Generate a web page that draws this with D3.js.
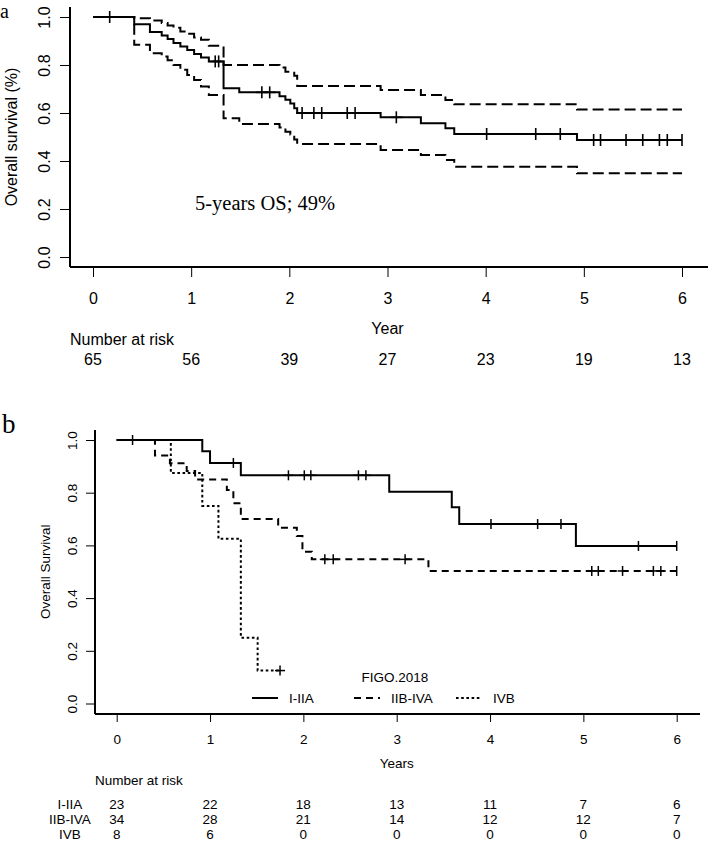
<!DOCTYPE html>
<html><head><meta charset="utf-8">
<script src="https://cdn.jsdelivr.net/npm/d3@7/dist/d3.min.js"></script>
<style>body{margin:0;background:#fff}svg{display:block}</style>
</head><body>
<svg id="c" width="708" height="843"></svg>
<script>
// ---------- Panel a data ----------
const aTimes = [0, 0.42, 0.58, 0.70, 0.76, 0.82, 0.89, 0.96, 1.03, 1.10, 1.18, 1.33, 1.49, 1.90, 1.96, 2.01, 2.05, 2.08, 2.93, 3.34, 3.59, 3.68, 4.93];
const aSurv  = [1.0, 0.970, 0.938, 0.923, 0.908, 0.892, 0.877, 0.862, 0.846, 0.831, 0.815, 0.703, 0.686, 0.670, 0.655, 0.640, 0.620, 0.600, 0.582, 0.557, 0.536, 0.5125, 0.4875];
const aUpper = [1.0, 0.995, 0.985, 0.975, 0.965, 0.955, 0.940, 0.930, 0.915, 0.905, 0.880, 0.800, 0.800, 0.790, 0.772, 0.772, 0.755, 0.7125, 0.696, 0.675, 0.654, 0.636, 0.615];
const aLower = [1.0, 0.884, 0.849, 0.835, 0.820, 0.800, 0.780, 0.758, 0.7375, 0.710, 0.675, 0.578, 0.554, 0.540, 0.522, 0.510, 0.490, 0.471, 0.446, 0.425, 0.404, 0.376, 0.349];
const aCensor = [0.17, 1.245, 1.28, 1.72, 1.80, 2.13, 2.25, 2.33, 2.59, 2.67, 3.09, 4.01, 4.51, 4.76, 5.10, 5.17, 5.43, 5.60, 5.77, 5.85, 6.0];
const aEnd = 6;
const riskTimes = [0, 1, 2, 3, 4, 5, 6];
const aRisk = [65, 56, 39, 27, 23, 19, 13];
const yTicks = [0, 0.2, 0.4, 0.6, 0.8, 1.0];
const xTicks = [0, 1, 2, 3, 4, 5, 6];

// ---------- Panel b data ----------
const groups = ["I-IIA", "IIB-IVA", "IVB"];
const b1Times = [0, 0.917, 1.0, 1.33, 2.92, 3.59, 3.67, 4.92];
const b1Surv  = [1.0, 0.957, 0.913, 0.866, 0.804, 0.745, 0.681, 0.598];
const b1Censor = [0.17, 1.25, 1.84, 2.01, 2.08, 2.59, 2.67, 4.01, 4.51, 4.76, 5.59, 6.0];
const b1End = 6;
const b2Times = [0, 0.41, 0.57, 0.75, 0.84, 1.18, 1.25, 1.33, 1.73, 1.93, 1.99, 2.09, 3.34];
const b2Surv  = [1.0, 0.941, 0.912, 0.882, 0.850, 0.810, 0.760, 0.700, 0.667, 0.636, 0.576, 0.547, 0.503];
const b2Censor = [2.23, 2.32, 3.09, 5.09, 5.16, 5.42, 5.75, 5.83, 6.0];
const b2End = 6;
const b3Times = [0, 0.58, 0.917, 1.09, 1.33, 1.51];
const b3Surv  = [1.0, 0.875, 0.75, 0.625, 0.25, 0.125];
const b3Censor = [1.75];
const b3End = 1.75;
const bRisk1 = [23, 22, 18, 13, 11, 7, 6];
const bRisk2 = [34, 28, 21, 14, 12, 12, 7];
const bRisk3 = [8, 6, 0, 0, 0, 0, 0];

const svg = d3.select("#c");
const SANS = "'Liberation Sans', Arial, Helvetica, sans-serif";
const SERIF = "'Liberation Serif', 'Times New Roman', serif";

function survAt(times, surv, t) {
  let v = surv[0];
  for (let i = 0; i < times.length; i++) if (times[i] <= t) v = surv[i];
  return v;
}
function stepPath(x, y, times, vals, end) {
  const pts = times.map((t, i) => [t, vals[i]]);
  pts.push([end, vals[vals.length - 1]]);
  return d3.line().x(d => x(d[0])).y(d => y(d[1])).curve(d3.curveStepAfter)(pts);
}
function censorMarks(g, x, y, times, surv, cens, arm, vArm, lw) {
  cens.forEach(t => {
    const cx = x(t), cy = y(survAt(times, surv, t));
    g.append("line").attr("x1", cx).attr("x2", cx).attr("y1", cy - vArm).attr("y2", cy + vArm)
      .attr("stroke", "#000").attr("stroke-width", lw);
    g.append("line").attr("x1", Math.max(cx - arm, x(0))).attr("x2", Math.min(cx + arm, x(6)))
      .attr("y1", cy).attr("y2", cy).attr("stroke", "#000").attr("stroke-width", lw);
  });
}

// ================= Panel a =================
{
  const x = d3.scaleLinear().domain([0, 6]).range([93, 682]);
  const y = d3.scaleLinear().domain([0, 1]).range([257, 17]);
  const g = svg.append("g");
  const axL = 70, axB = 267;
  g.append("text").text("a").attr("x", 0).attr("y", 18).attr("font-family", SERIF).attr("font-size", 20);
  g.append("line").attr("x1", axL).attr("x2", axL).attr("y1", 7).attr("y2", axB).attr("stroke", "#000").attr("stroke-width", 2);
  g.append("line").attr("x1", axL).attr("x2", 708).attr("y1", axB).attr("y2", axB).attr("stroke", "#000").attr("stroke-width", 2);
  const ya = g.append("g").attr("transform", `translate(${axL},0)`)
    .call(d3.axisLeft(y).tickValues(yTicks).tickFormat(d3.format(".1f")).tickSize(10).tickPadding(0));
  ya.select(".domain").remove();
  ya.selectAll("line").attr("stroke", "#000").attr("stroke-width", 1);
  ya.selectAll("text").attr("font-family", SANS).attr("font-size", 16).attr("fill", "#000")
    .attr("x", null).attr("dy", "0.35em").attr("text-anchor", "middle")
    .attr("transform", `translate(${44 - axL},0) rotate(-90)`);
  g.append("text").text("Overall survival (%)").attr("font-family", SANS).attr("font-size", 16)
    .attr("text-anchor", "middle").attr("dy", "0.35em")
    .attr("transform", `translate(11,${(y(0) + y(1)) / 2}) rotate(-90)`);
  const xa = g.append("g").attr("transform", `translate(0,${axB})`)
    .call(d3.axisBottom(x).tickValues(xTicks).tickFormat(d3.format("d")).tickSize(10).tickPadding(0));
  xa.select(".domain").remove();
  xa.selectAll("line").attr("stroke", "#000").attr("stroke-width", 1);
  xa.selectAll("text").attr("font-family", SANS).attr("font-size", 16).attr("fill", "#000")
    .attr("y", 298 - axB).attr("dy", "0.35em");
  g.append("text").text("Year").attr("x", x(3)).attr("y", 328).attr("dy", "0.35em")
    .attr("text-anchor", "middle").attr("font-family", SANS).attr("font-size", 16);
  g.append("text").text("Number at risk").attr("x", axL).attr("y", 339).attr("dy", "0.35em")
    .attr("font-family", SANS).attr("font-size", 16);
  riskTimes.forEach((t, i) => g.append("text").text(aRisk[i]).attr("x", x(t)).attr("y", 359).attr("dy", "0.35em")
    .attr("text-anchor", "middle").attr("font-family", SANS).attr("font-size", 16));
  [aUpper, aLower].forEach(v => g.append("path").attr("d", stepPath(x, y, aTimes, v, aEnd))
    .attr("fill", "none").attr("stroke", "#000").attr("stroke-width", 2).attr("stroke-dasharray", "11,5"));
  g.append("path").attr("d", stepPath(x, y, aTimes, aSurv, aEnd))
    .attr("fill", "none").attr("stroke", "#000").attr("stroke-width", 2);
  censorMarks(g, x, y, aTimes, aSurv, aCensor, 6, 6, 1.6);
  g.append("text").text("5-years OS; 49%").attr("x", 195).attr("y", 210)
    .attr("font-family", SERIF).attr("font-size", 20.5);
}

// ================= Panel b =================
{
  const x = d3.scaleLinear().domain([0, 6]).range([116.7, 676.7]);
  const y = d3.scaleLinear().domain([0, 1]).range([703.5, 440]);
  const g = svg.append("g");
  const axL = 95, axB = 714;
  const FS = 13.5;
  g.append("text").text("b").attr("x", 2).attr("y", 433).attr("font-family", SERIF).attr("font-size", 27);
  g.append("line").attr("x1", axL).attr("x2", axL).attr("y1", 430).attr("y2", axB).attr("stroke", "#000").attr("stroke-width", 2);
  g.append("line").attr("x1", axL).attr("x2", 700).attr("y1", axB).attr("y2", axB).attr("stroke", "#000").attr("stroke-width", 2);
  const ya = g.append("g").attr("transform", `translate(${axL},0)`)
    .call(d3.axisLeft(y).tickValues(yTicks).tickFormat(d3.format(".1f")).tickSize(9).tickPadding(0));
  ya.select(".domain").remove();
  ya.selectAll("line").attr("stroke", "#000").attr("stroke-width", 1);
  ya.selectAll("text").attr("font-family", SANS).attr("font-size", FS).attr("fill", "#000")
    .attr("x", null).attr("dy", "0.35em").attr("text-anchor", "middle")
    .attr("transform", `translate(${72 - axL},0) rotate(-90)`);
  g.append("text").text("Overall Survival").attr("font-family", SANS).attr("font-size", FS)
    .attr("text-anchor", "middle").attr("dy", "0.35em")
    .attr("transform", `translate(45,${(y(0) + y(1)) / 2}) rotate(-90)`);
  const xa = g.append("g").attr("transform", `translate(0,${axB})`)
    .call(d3.axisBottom(x).tickValues(xTicks).tickFormat(d3.format("d")).tickSize(8).tickPadding(0));
  xa.select(".domain").remove();
  xa.selectAll("line").attr("stroke", "#000").attr("stroke-width", 1);
  xa.selectAll("text").attr("font-family", SANS).attr("font-size", FS).attr("fill", "#000")
    .attr("y", 739 - axB).attr("dy", "0.35em");
  g.append("text").text("Years").attr("x", x(3)).attr("y", 763).attr("dy", "0.35em")
    .attr("text-anchor", "middle").attr("font-family", SANS).attr("font-size", FS);
  g.append("text").text("Number at risk").attr("x", axL).attr("y", 780).attr("dy", "0.35em")
    .attr("font-family", SANS).attr("font-size", FS);
  const risks = [bRisk1, bRisk2, bRisk3];
  const rowY = [804, 819, 834];
  groups.forEach((name, r) => {
    g.append("text").text(name).attr("x", 70).attr("y", rowY[r]).attr("dy", "0.35em")
      .attr("text-anchor", "middle").attr("font-family", SANS).attr("font-size", FS);
    riskTimes.forEach((t, i) => g.append("text").text(risks[r][i]).attr("x", x(t)).attr("y", rowY[r]).attr("dy", "0.35em")
      .attr("text-anchor", "middle").attr("font-family", SANS).attr("font-size", FS));
  });
  const styles = ["none", "7,5", "2.6,2.6"];
  const series = [
    [b1Times, b1Surv, b1Censor, b1End],
    [b2Times, b2Surv, b2Censor, b2End],
    [b3Times, b3Surv, b3Censor, b3End]
  ];
  series.forEach((s, i) => {
    g.append("path").attr("d", stepPath(x, y, s[0], s[1], s[3]))
      .attr("fill", "none").attr("stroke", "#000").attr("stroke-width", 2)
      .attr("stroke-dasharray", styles[i]);
    censorMarks(g, x, y, s[0], s[1], s[2], 5, 5, 1.5);
  });
  g.append("text").text("FIGO.2018").attr("x", 395).attr("y", 677).attr("dy", "0.35em")
    .attr("text-anchor", "middle").attr("font-family", SANS).attr("font-size", FS);
  const legX = [252, 354, 456];
  groups.forEach((name, i) => {
    g.append("line").attr("x1", legX[i]).attr("x2", legX[i] + 26).attr("y1", 698).attr("y2", 698)
      .attr("stroke", "#000").attr("stroke-width", 2).attr("stroke-dasharray", styles[i]);
    g.append("text").text(name).attr("x", legX[i] + 37).attr("y", 698).attr("dy", "0.35em")
      .attr("font-family", SANS).attr("font-size", FS);
  });
}
</script>
</body></html>
